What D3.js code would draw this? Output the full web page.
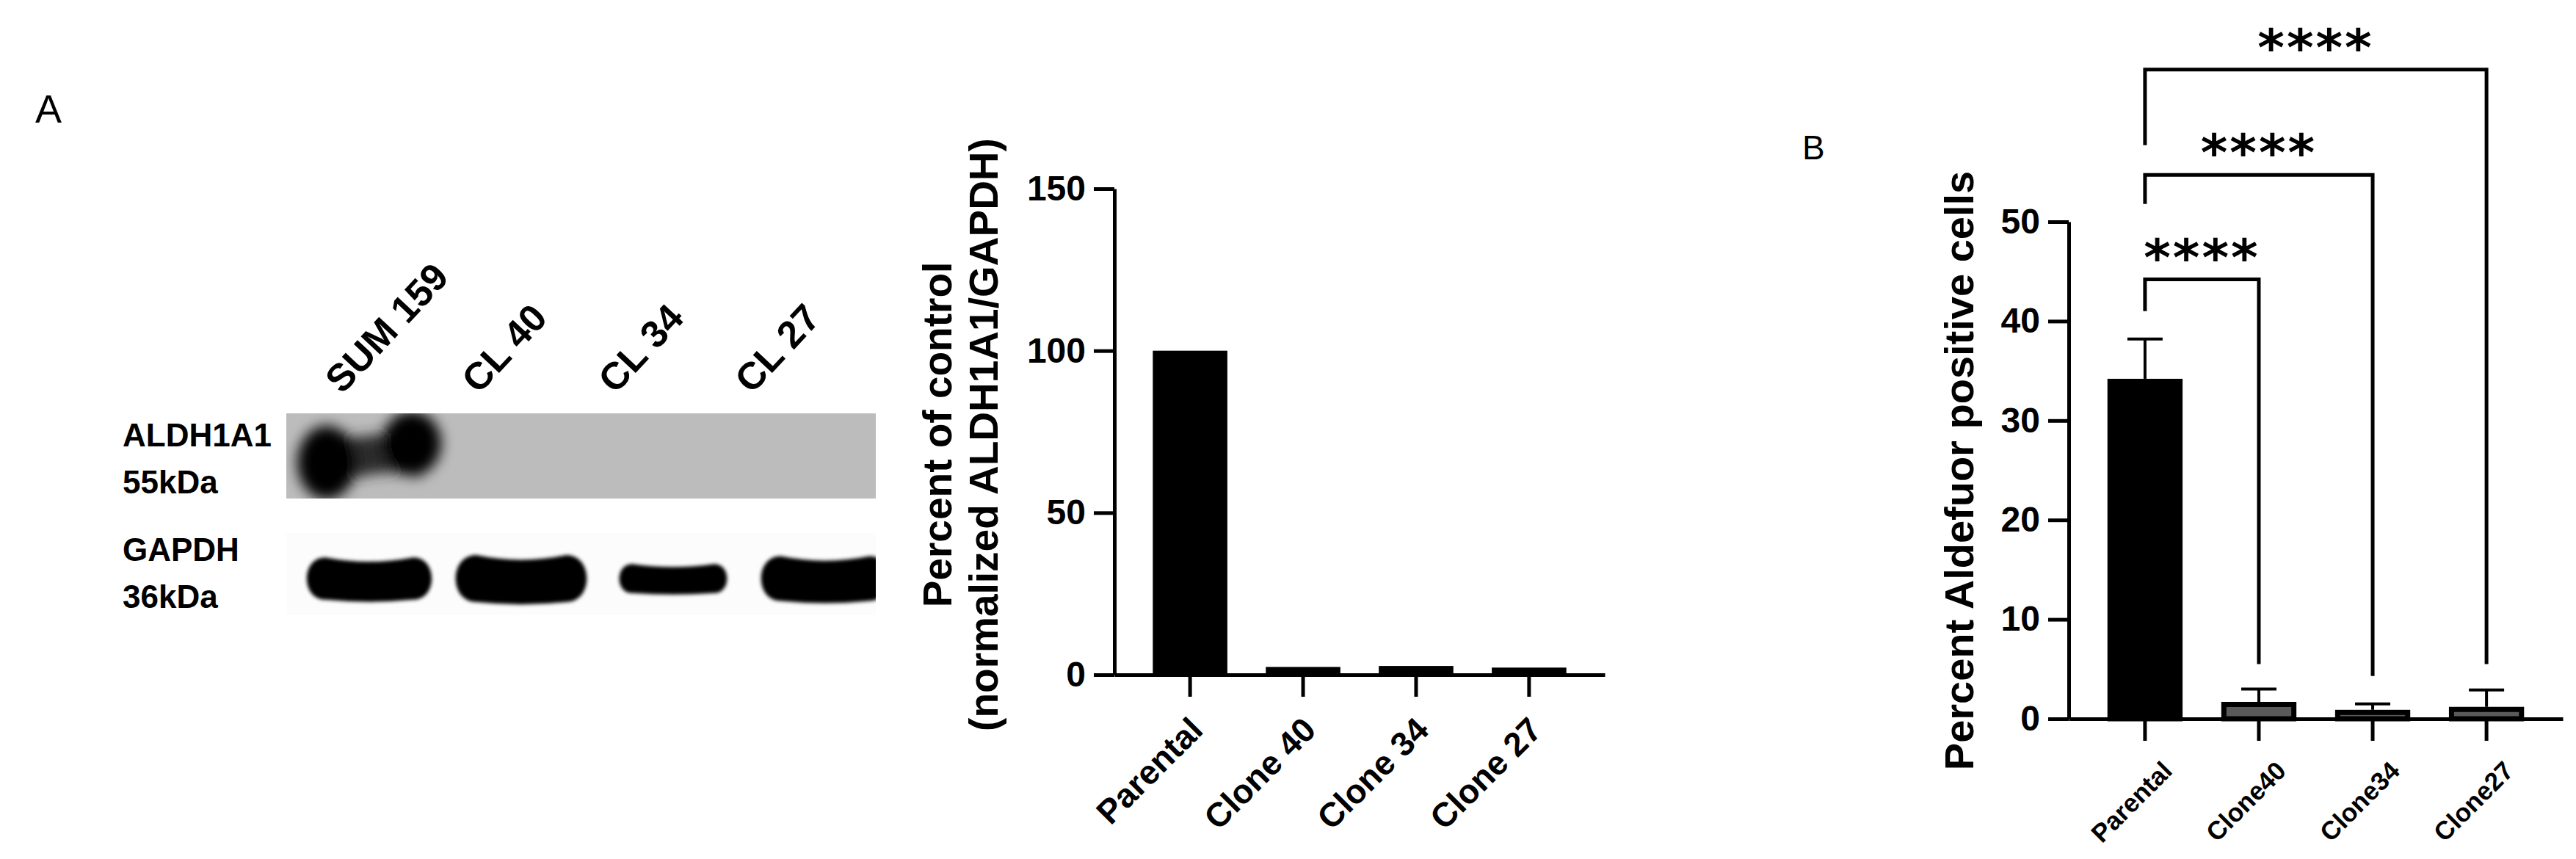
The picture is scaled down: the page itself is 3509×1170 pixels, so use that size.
<!DOCTYPE html>
<html>
<head>
<meta charset="utf-8">
<script src="https://cdnjs.cloudflare.com/ajax/libs/d3/7.8.5/d3.min.js"></script>
<style>
  body { margin: 0; background: #fff; }
  svg { display: block; font-family: "Liberation Sans", Arial, sans-serif; }
</style>
</head>
<body>
<svg></svg>
<script>
var width = 3509;
var height = 1170;

// western blot (panel A, left)
var blotLanes = ["SUM 159", "CL 40", "CL 34", "CL 27"];
var blotRows = ["ALDH1A1", "GAPDH"];
var blotWeights = ["55kDa", "36kDa"];
var aldhSignal = [1, 0, 0, 0];
var gapdhSignal = [0.9, 1.0, 0.62, 0.95];

// densitometry (panel A, right)
var westernGroups = ["Parental", "Clone 40", "Clone 34", "Clone 27"];
var westernValues = [100, 2.4, 2.7, 2.2];
var westernTicks = [0, 50, 100, 150];

// aldefluor (panel B)
var aldeGroups = ["Parental", "Clone40", "Clone34", "Clone27"];
var aldeMeans = [34.2, 1.7, 0.9, 1.2];
var aldeSem = [4.0, 1.3, 0.6, 1.7];
var aldeTicks = [0, 10, 20, 30, 40, 50];
var compareTo = ["Clone40", "Clone34", "Clone27"];
var compareLabels = ["****", "****", "****"];

var svg = d3.select("svg")
  .attr("width", width)
  .attr("height", height);

svg.append("rect").attr("width", width).attr("height", height).attr("fill", "#fff");

var defs = svg.append("defs");
defs.append("filter").attr("id", "soft").attr("x", "-20%").attr("y", "-40%").attr("width", "140%").attr("height", "180%")
  .append("feGaussianBlur").attr("stdDeviation", 2.5);
defs.append("filter").attr("id", "smear").attr("x", "-30%").attr("y", "-50%").attr("width", "160%").attr("height", "200%")
  .append("feGaussianBlur").attr("stdDeviation", 9);
defs.append("clipPath").attr("id", "blotClip")
  .append("rect").attr("x", 390).attr("y", 540).attr("width", 803).attr("height", 320);
defs.append("clipPath").attr("id", "aldhClip")
  .append("rect").attr("x", 390).attr("y", 563).attr("width", 803).attr("height", 116);

// panel letters
svg.append("text").attr("x", 48).attr("y", 167).attr("font-size", 54).text("A");
svg.append("text").attr("x", 2455).attr("y", 217).attr("font-size", 46).text("B");

// ---------- blot ----------
var lane = d3.scalePoint().domain(blotLanes).range([503, 1124]);
var laneLabel = d3.scalePoint().domain(blotLanes).range([466, 1024]);

var blot = svg.append("g");

svg.selectAll(".laneLabel")
  .data(blotLanes).enter()
  .append("text")
  .attr("class", "laneLabel")
  .attr("transform", function(d) { return "translate(" + laneLabel(d) + ",538) rotate(-47)"; })
  .attr("font-size", 52)
  .attr("font-weight", "bold")
  .text(function(d) { return d; });

var rowLabel = svg.selectAll(".rowLabel")
  .data(blotRows).enter()
  .append("text")
  .attr("class", "rowLabel")
  .attr("x", 167)
  .attr("font-size", 44)
  .attr("font-weight", "bold");
rowLabel.append("tspan").attr("x", 167).attr("y", function(d, i) { return i ? 764 : 608; }).text(function(d) { return d; });
rowLabel.append("tspan").attr("x", 167).attr("y", function(d, i) { return i ? 828 : 672; }).text(function(d, i) { return blotWeights[i]; });

// ALDH1A1 membrane
blot.append("rect").attr("x", 390).attr("y", 563).attr("width", 803).attr("height", 116).attr("fill", "#bcbcbc");

var aldh = blot.append("g").attr("clip-path", "url(#aldhClip)");
blotLanes.forEach(function(d, i) {
  if (aldhSignal[i] <= 0) return;
  var cx = lane(d), s = aldhSignal[i];
  var g = aldh.append("g").attr("filter", "url(#smear)");
  // bow-tie smear joining the two lobes
  g.append("path")
    .attr("d", "M" + (cx - 70) + ",585 Q" + cx + ",612 " + (cx + 70) + ",566 L" + (cx + 70) + ",650 Q" + cx + ",630 " + (cx - 70) + ",676Z")
    .attr("fill", "#2a2a2a");
  g.append("ellipse").attr("cx", cx - 58).attr("cy", 630).attr("rx", 40 * s).attr("ry", 50 * s).attr("fill", "#000");
  g.append("ellipse").attr("cx", cx + 58).attr("cy", 604).attr("rx", 40 * s).attr("ry", 44 * s).attr("fill", "#000");
});

// GAPDH membrane
blot.append("rect").attr("x", 390).attr("y", 726).attr("width", 803).attr("height", 112).attr("fill", "#fcfcfc");

function bandPath(cx, cy, w, h) {
  var x0 = cx - w / 2, x1 = cx + w / 2, r = h * 0.45, sag = h * 0.1;
  return "M" + (x0 + r) + "," + (cy - h / 2) +
    " Q" + cx + "," + (cy - h / 2 + sag * 2) + " " + (x1 - r) + "," + (cy - h / 2) +
    " C" + (x1 + r * 0.3) + "," + (cy - h / 2) + " " + (x1 + r * 0.3) + "," + (cy + h / 2) + " " + (x1 - r) + "," + (cy + h / 2) +
    " Q" + cx + "," + (cy + h / 2 + sag) + " " + (x0 + r) + "," + (cy + h / 2) +
    " C" + (x0 - r * 0.3) + "," + (cy + h / 2) + " " + (x0 - r * 0.3) + "," + (cy - h / 2) + " " + (x0 + r) + "," + (cy - h / 2) + "Z";
}

blot.append("g").attr("clip-path", "url(#blotClip)")
  .selectAll("path")
  .data(blotLanes).enter()
  .append("path")
  .attr("d", function(d, i) {
    var s = gapdhSignal[i];
    return bandPath(lane(d), 788, 95 + 85 * s, 64 * s);
  })
  .attr("fill", "#000")
  .attr("filter", "url(#soft)");

// ---------- bar chart helper ----------
function barChart(opt) {
  var g = svg.append("g");
  var x = d3.scaleBand().domain(opt.groups).range([opt.x0, opt.x1]).padding(0.34);
  var y = d3.scaleLinear().domain([0, opt.ticks[opt.ticks.length - 1]]).range([opt.y0, opt.yTop]);

  // bars
  g.selectAll(".bar")
    .data(opt.groups).enter()
    .append("rect")
    .attr("x", function(d) { return x(d) + opt.sw / 2; })
    .attr("y", function(d, i) { return y(opt.values[i]) + opt.sw / 2; })
    .attr("width", x.bandwidth() - opt.sw)
    .attr("height", function(d, i) { return Math.max(0, opt.y0 - y(opt.values[i]) - opt.sw / 2); })
    .attr("fill", function(d, i) { return i === 0 ? "#000" : opt.fill; })
    .attr("stroke", "#000")
    .attr("stroke-width", opt.sw);

  // error bars (upper only)
  if (opt.errors) {
    var eb = g.selectAll(".err")
      .data(opt.groups).enter()
      .append("g")
      .attr("stroke", "#000")
      .attr("stroke-width", 4);
    eb.append("line")
      .attr("x1", function(d) { return x(d) + x.bandwidth() / 2; })
      .attr("x2", function(d) { return x(d) + x.bandwidth() / 2; })
      .attr("y1", function(d, i) { return y(opt.values[i]); })
      .attr("y2", function(d, i) { return y(opt.values[i] + opt.errors[i]); });
    eb.append("line")
      .attr("x1", function(d) { return x(d) + x.bandwidth() / 2 - 24; })
      .attr("x2", function(d) { return x(d) + x.bandwidth() / 2 + 24; })
      .attr("y1", function(d, i) { return y(opt.values[i] + opt.errors[i]); })
      .attr("y2", function(d, i) { return y(opt.values[i] + opt.errors[i]); });
  }

  var yAxis = g.append("g")
    .attr("transform", "translate(" + opt.x0 + ",0)")
    .call(d3.axisLeft(y).tickValues(opt.ticks).tickSize(28).tickSizeOuter(0).tickPadding(11));
  yAxis.selectAll("path, line").attr("stroke", "#000").attr("stroke-width", 5);
  yAxis.selectAll("text")
    .attr("font-size", 48)
    .attr("font-weight", "bold")
    .attr("font-family", "Liberation Sans, Arial, sans-serif")
    .attr("fill", "#000");

  var xAxis = g.append("g")
    .attr("transform", "translate(0," + opt.y0 + ")")
    .call(d3.axisBottom(x).tickSize(30).tickSizeOuter(0));
  xAxis.selectAll("path, line").attr("stroke", "#000").attr("stroke-width", 5);
  xAxis.selectAll("text")
    .attr("x", 0).attr("y", 0).attr("dy", 0)
    .attr("transform", "translate(" + opt.labelDx + "," + opt.labelDy + ") rotate(-45)")
    .style("text-anchor", "end")
    .attr("font-size", opt.labelSize)
    .attr("font-weight", "bold")
    .attr("font-family", "Liberation Sans, Arial, sans-serif")
    .attr("fill", "#000");

  // y title
  var title = g.append("g")
    .attr("font-size", opt.titleSize)
    .attr("font-weight", "bold")
    .attr("text-anchor", "middle");
  opt.title.forEach(function(t, i) {
    title.append("text")
      .attr("transform", "translate(" + opt.titleX[i] + "," + opt.titleY + ") rotate(-90)")
      .text(t);
  });

  return { x: x, y: y, g: g };
}

barChart({
  groups: westernGroups, values: westernValues, ticks: westernTicks,
  x0: 1518, x1: 2186, y0: 919, yTop: 257,
  sw: 0, fill: "#000",
  labelDx: 20, labelDy: 78, labelSize: 46,
  title: ["Percent of control", "(normalized ALDH1A1/GAPDH)"],
  titleX: [1296, 1359], titleY: 592, titleSize: 55
});

var b = barChart({
  groups: aldeGroups, values: aldeMeans, errors: aldeSem, ticks: aldeTicks,
  x0: 2818, x1: 3491, y0: 979, yTop: 302,
  sw: 7, fill: "#5a5a5a",
  labelDx: 39, labelDy: 73, labelSize: 35,
  title: ["Percent Aldefuor positive cells"],
  titleX: [2688], titleY: 641, titleSize: 56
});

// significance brackets
var bx = function(d) { return b.x(d) + b.x.bandwidth() / 2; };
var bracketLevel = [44.2, 54.7, 65.3];
var leftDrop = [41.0, 51.8, 57.7];
var rightDrop = [5.5, 4.3, 5.5];

compareTo.forEach(function(target, i) {
  var yLine = b.y(bracketLevel[i]);
  var x0 = bx(aldeGroups[0]), x1 = bx(target);
  b.g.append("path")
    .attr("d", "M" + x0 + "," + b.y(leftDrop[i]) + "V" + yLine + "H" + x1 + "V" + b.y(rightDrop[i]))
    .attr("fill", "none")
    .attr("stroke", "#000")
    .attr("stroke-width", 5);
  b.g.append("text")
    .attr("x", (x0 + x1) / 2)
    .attr("y", yLine - 6)
    .attr("text-anchor", "middle")
    .attr("font-family", "DejaVu Sans, sans-serif")
    .attr("font-weight", "bold")
    .attr("font-size", 70)
    .attr("letter-spacing", 3)
    .text(compareLabels[i]);
});
</script>
</body>
</html>
